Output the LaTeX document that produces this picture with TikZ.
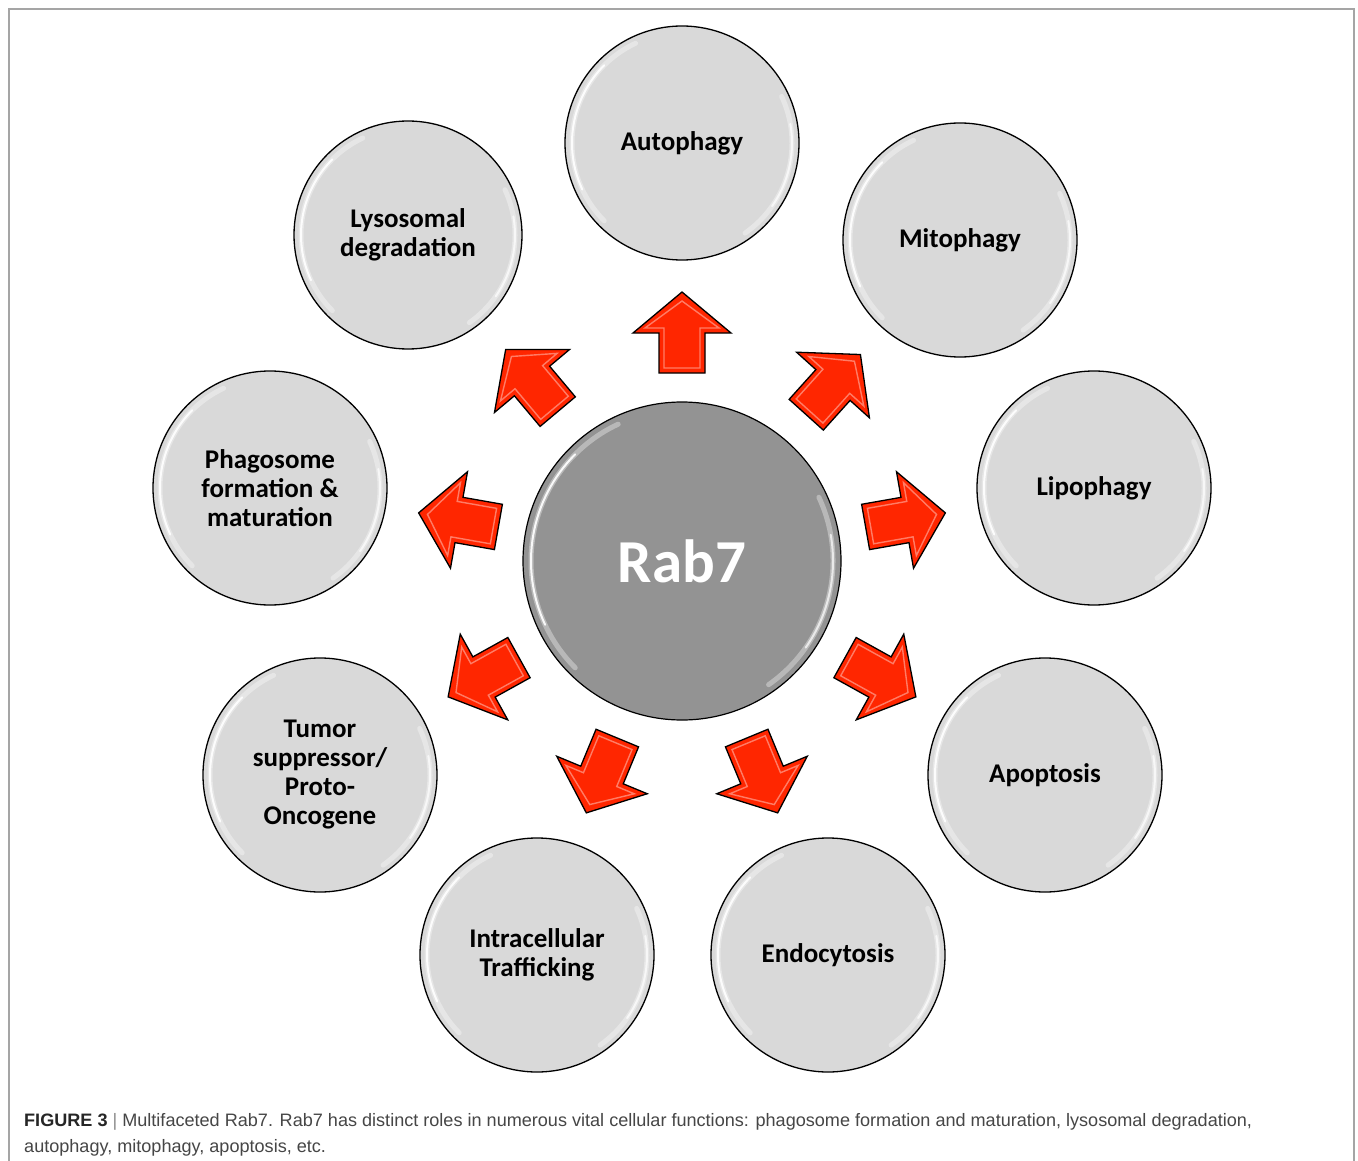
\documentclass[tikz,border=0pt]{standalone}
\usepackage{fontspec}
\setmainfont{Carlito}
\newfontfamily\capfont{Liberation Sans}
\usetikzlibrary{calc}
\definecolor{circfill}{RGB}{217,217,217}
\definecolor{rabfill}{RGB}{147,147,147}
\definecolor{arrred}{RGB}{255,38,0}
\definecolor{framegray}{RGB}{165,165,165}
\definecolor{captext}{RGB}{70,70,70}
\tikzset{
  bubble/.style={circle, draw=black, line width=1.3pt, fill=circfill, inner sep=0pt,
    minimum size=234pt, align=center, font=\fontsize{27}{29}\selectfont\bfseries},
  hub/.style={circle, draw=black, line width=1.2pt, fill=rabfill, inner sep=0pt,
    minimum size=318pt, text=white, font=\fontsize{61}{64}\selectfont\bfseries},
  arrowbody/.style={fill=arrred, draw=black, line width=1.3pt, line join=miter},
  arrowbevel/.style={draw=white, line width=1.4pt, opacity=0.4, line join=miter},
  glint/.style={white, line width=5pt, opacity=0.35, line cap=round},
  glintcore/.style={white, line width=2pt, opacity=0.9, line cap=round},
  captionline/.style={anchor=base west, inner sep=0pt, text=captext,
    font=\capfont\fontsize{18}{22}\selectfont}
}
\newcommand\hilite[2]{%
  \draw[glint] ($(#1.center)+(115:#2)$) arc[start angle=115, end angle=225, radius=#2];
  \draw[glintcore] ($(#1.center)+(135:#2)$) arc[start angle=135, end angle=205, radius=#2];
  \draw[glint] ($(#1.center)+(-55:#2)$) arc[start angle=-55, end angle=25, radius=#2];
  \draw[glintcore, opacity=0.7] ($(#1.center)+(-35:#2)$) arc[start angle=-35, end angle=10, radius=#2];
}
\newcommand\redarrow[3]{%
  \begin{scope}[shift={(#1,#2)}, rotate=#3]
    \draw[arrowbody] (-40pt,-23pt) -- (0pt,-23pt) -- (0pt,-49pt) -- (41pt,0pt) -- (0pt,49pt) -- (0pt,23pt) -- (-40pt,23pt) -- cycle;
    \draw[arrowbevel] (-35pt,-18pt) -- (5pt,-18pt) -- (5pt,-37pt) -- (32pt,0pt) -- (5pt,37pt) -- (5pt,18pt) -- (-35pt,18pt) -- cycle;
  \end{scope}}
\newcommand\rabcapA{{\bfseries\color{black!85}FIGURE 3} {\color{black!45}|} Multifaceted Rab7. Rab7 has distinct roles in numerous vital cellular functions: phagosome formation and maturation, lysosomal degradation,}
\newcommand\rabcapB{autophagy, mitophagy, apoptosis, etc.}
\newlength\rabcapw
\begin{document}
\settowidth\rabcapw{\capfont\fontsize{18}{22}\selectfont\rabcapA}%
\pgfmathsetmacro\rabsx{1228/\rabcapw}%
\begin{tikzpicture}[x=1pt, y=-1pt]
\useasboundingbox (0,0) rectangle (1358,1161);
\fill[white] (0,0) rectangle (1358,1161);
\draw[framegray, line width=1.6pt] (9,1161) -- (9,9) -- (1354,9) -- (1354,1161);

% circles
\node[bubble] (auto) at (682,143) {Autophagy};
\node[bubble] (mito) at (960,240) {Mitophagy};
\node[bubble] (lipo) at (1094,488) {Lipophagy};
\node[bubble] (apop) at (1045,775) {Apoptosis};
\node[bubble] (endo) at (828,955) {Endocytosis};
\node[bubble] (intra) at (537,955) {Intracellular\\Trafficking};
\node[bubble] (tumor) at (320,775) {Tumor\\suppressor/\\Proto-\\Oncogene};
\node[bubble] (phago) at (270,488) {Phagosome\\formation \&\\maturation};
\node[bubble, minimum size=228pt] (lyso) at (408,235) {Lysosomal\\degradation};
\node[hub] (rab) at (682,561) {Rab7};

\foreach \n in {auto,mito,lipo,apop,endo,intra,tumor,phago}{\hilite{\n}{110pt}}
\hilite{lyso}{107pt}
\hilite{rab}{151pt}

% arrows
\redarrow{682}{333}{90}
\redarrow{532}{381}{130}
\redarrow{833}{385}{48}
\redarrow{905}{520}{10}
\redarrow{880}{677}{-29}
\redarrow{762}{775}{-67.5}
\redarrow{602}{775}{-112.5}
\redarrow{484}{677}{-151}
\redarrow{459}{520}{170}

% caption
\node[captionline] (cap1) at (24,1126) {\scalebox{\rabsx}[1]{\rabcapA}};
\node[captionline] (cap2) at (24,1152) {\scalebox{\rabsx}[1]{\rabcapB}};
\end{tikzpicture}
\end{document}
